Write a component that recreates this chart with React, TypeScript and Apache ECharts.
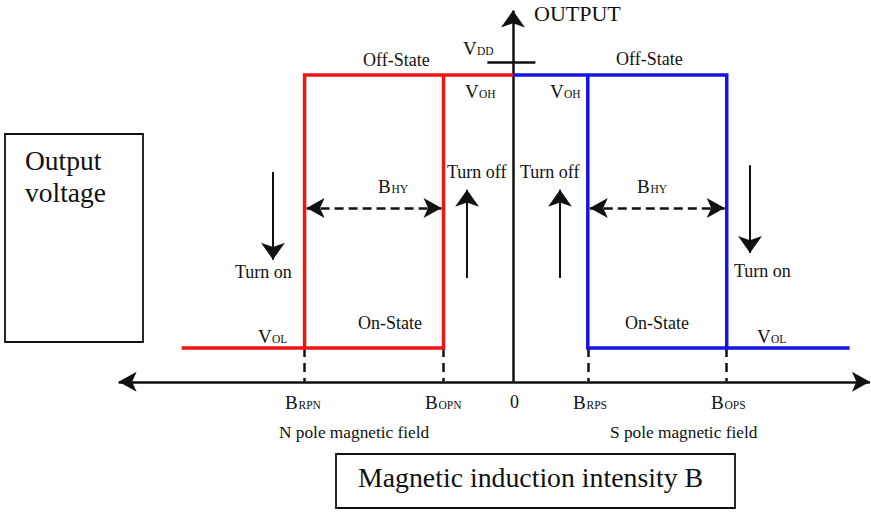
import React, { useEffect, useRef } from 'react';
import * as echarts from 'echarts';

// ---- canvas / coordinate domain ----
const W = 871;
const H = 512;
const X_MIN = -24;
const X_MAX = 16.75;
const Y_MIN = -2.12;
const Y_MAX = 6.22;

// ---- magnetic field switching points (B axis) ----
const B_RPN = -9.75;
const B_OPN = -3.25;
const B_RPS = 3.5;
const B_OPS = 10.0;
const B_FIELD_LEFT = -15.5;
const B_FIELD_RIGHT = 15.75;
const B_AXIS_ENDS = [-18.45, 16.7];
const B_HY_LEVEL = 2.83;

// ---- output voltage levels ----
const V_OL = 0.55;
const V_OH = 5.0;
const V_DD = 5.2;
const V_AXIS_TOP = 6.05;
const VDD_TICK = [-1.2, 1.05];

// ---- hysteresis paths ----
const nPolePaths = [
  [[B_FIELD_LEFT, V_OL], [B_RPN, V_OL], [B_RPN, V_OH], [0, V_OH]],
  [[B_RPN, V_OL], [B_OPN, V_OL], [B_OPN, V_OH]],
];
const sPolePaths = [
  [[0, V_OH], [B_OPS, V_OH], [B_OPS, V_OL], [B_FIELD_RIGHT, V_OL]],
  [[B_RPS, V_OH], [B_RPS, V_OL], [B_OPS, V_OL]],
];
const switchPoints = [B_RPN, B_OPN, B_RPS, B_OPS];
const hysteresisSpans = [
  [B_RPN, B_OPN],
  [B_RPS, B_OPS],
];
// turn on / turn off arrows: [B, V from, V tip]
const turnArrows = [
  [-11.23, 3.42, 1.99],
  [-2.15, 1.69, 3.13],
  [2.2, 1.69, 3.13],
  [11.09, 3.53, 2.1],
];

const PX_X = W / (X_MAX - X_MIN);
const FONT = '"Liberation Serif", "Times New Roman", Times, serif';

function txt(x: number, baseline: number, s: string, size: number, align = 'left') {
  return {
    type: 'text',
    x,
    y: baseline - 0.34 * size,
    silent: true,
    style: {
      text: s,
      fill: '#111',
      fontSize: size,
      fontFamily: FONT,
      textAlign: align,
      textVerticalAlign: 'middle',
    },
  };
}

function symLabel(x: number, baseline: number, main: string, sub: string) {
  const adv = main === 'V' ? 14 : 13.5;
  return [txt(x, baseline, main, 19), txt(x + adv, baseline, sub, 11.5)];
}

function box(x: number, y: number, w: number, h: number) {
  return {
    type: 'rect',
    silent: true,
    shape: { x, y, width: w, height: h },
    style: { fill: 'rgba(0,0,0,0)', stroke: '#111', lineWidth: 1.8 },
  };
}

function linesSeries(data: any[], color: string, width: number, extra: any = {}) {
  return {
    type: 'lines',
    coordinateSystem: 'cartesian2d',
    silent: true,
    animation: false,
    data: data.map((coords) => ({ coords })),
    lineStyle: { color, width, opacity: 1, curveness: 0, ...(extra.lineStyle || {}) },
    symbol: extra.symbol || 'none',
    symbolSize: extra.symbolSize || 0,
    polyline: !!extra.polyline,
    z: extra.z || 2,
  };
}

export default function App() {
  const ref = useRef<HTMLDivElement>(null);

  useEffect(() => {
    if (!ref.current) return;
    const chart = echarts.init(ref.current, null, { renderer: 'svg', width: W, height: H });

    const gap = 2 / PX_X;
    const axisH = [[B_AXIS_ENDS[0], 0], [B_AXIS_ENDS[1], 0]];
    const axisV = [[0, 0], [0, V_AXIS_TOP]];
    const hyArrows = hysteresisSpans.map((s) => [[s[0] + gap, B_HY_LEVEL], [s[1] - gap, B_HY_LEVEL]]);
    const turn = turnArrows.map((a) => [[a[0], a[1]], [a[0], a[2]]]);
    const dashedDrops = switchPoints.map((b) => [[b, V_OL], [b, 0]]);

    const graphics: any[] = [
      txt(534, 21, 'OUTPUT', 22),
      ...symLabel(463, 55, 'V', 'DD'),
      ...symLabel(465, 98, 'V', 'OH'),
      ...symLabel(550, 98, 'V', 'OH'),
      txt(363, 66, 'Off-State', 18),
      txt(616, 65, 'Off-State', 18),
      txt(447, 178, 'Turn off', 18),
      txt(520, 178, 'Turn off', 18),
      ...symLabel(378, 193, 'B', 'HY'),
      ...symLabel(637, 193, 'B', 'HY'),
      txt(235, 278, 'Turn on', 18),
      txt(734, 277, 'Turn on', 18),
      txt(358, 329, 'On-State', 18),
      txt(625, 329, 'On-State', 18),
      ...symLabel(258, 343, 'V', 'OL'),
      ...symLabel(757, 343, 'V', 'OL'),
      ...symLabel(285, 409, 'B', 'RPN'),
      ...symLabel(425, 409, 'B', 'OPN'),
      txt(510, 408, '0', 18),
      ...symLabel(573, 409, 'B', 'RPS'),
      ...symLabel(711, 409, 'B', 'OPS'),
      txt(279, 438, 'N pole magnetic field', 17.3),
      txt(610, 438, 'S pole magnetic field', 17.3),
      box(5, 134, 138, 208),
      txt(25, 170, 'Output', 27.5),
      txt(25, 202, 'voltage', 27.5),
      box(336, 454, 399, 54),
      txt(358, 487, 'Magnetic induction intensity B', 27.8),
    ];

    chart.setOption({
      animation: false,
      backgroundColor: '#ffffff',
      grid: { left: 0, right: 0, top: 0, bottom: 0, containLabel: false },
      xAxis: { type: 'value', min: X_MIN, max: X_MAX, show: false },
      yAxis: { type: 'value', min: Y_MIN, max: Y_MAX, show: false },
      series: [
        linesSeries([axisH], '#111', 2.5, {
          symbol: ['arrow', 'arrow'],
          symbolSize: [[15, 18], [15, 18]],
        }),
        linesSeries([axisV], '#111', 2.5, {
          symbol: ['none', 'arrow'],
          symbolSize: [[18, 17], [18, 17]],
        }),
        linesSeries([[[VDD_TICK[0], V_DD], [VDD_TICK[1], V_DD]]], '#111', 2.5),
        linesSeries(dashedDrops, '#111', 2.5, { lineStyle: { type: [9, 6] } }),
        linesSeries(hyArrows, '#111', 2.5, {
          lineStyle: { type: [9, 5] },
          symbol: ['arrow', 'arrow'],
          symbolSize: [[15, 18], [15, 18]],
        }),
        linesSeries(turn, '#111', 2, {
          symbol: ['none', 'arrow'],
          symbolSize: [[18, 17], [18, 17]],
        }),
        linesSeries(nPolePaths, '#f01414', 3.5, { polyline: true, z: 3 }),
        linesSeries(sPolePaths, '#1414e6', 3.5, { polyline: true, z: 3 }),
      ],
      graphic: { elements: graphics },
    });

    return () => chart.dispose();
  }, []);

  return (
    <div
      ref={ref}
      style={{ position: 'fixed', left: 0, top: 0, width: W, height: H, background: '#fff' }}
    />
  );
}
